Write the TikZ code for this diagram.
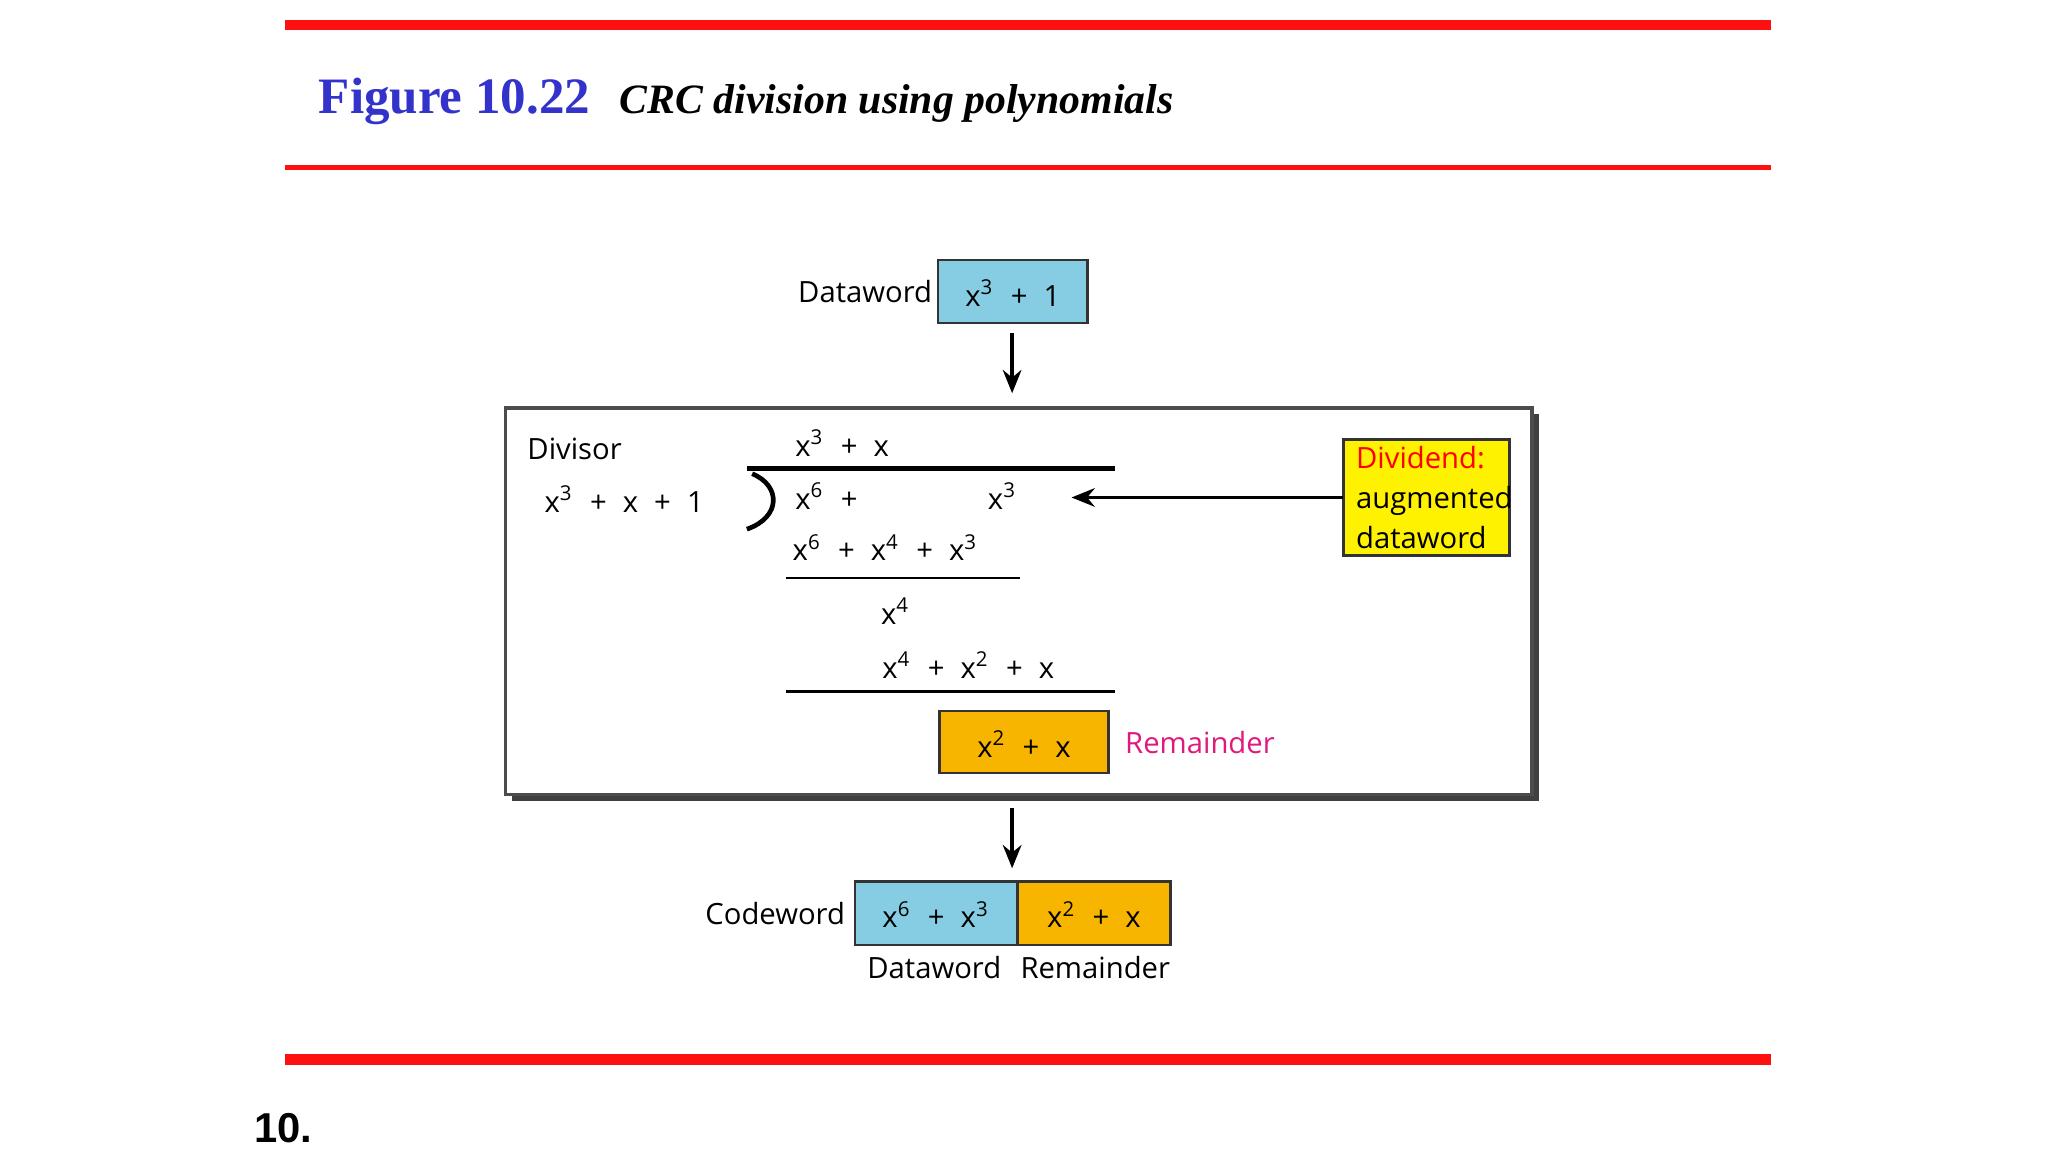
\documentclass[tikz,border=0pt]{standalone}
\usepackage{fontspec}
\setmainfont{Open Sans}
\newfontfamily\serif{Liberation Serif}
\newfontfamily\lsans{Liberation Sans}
\usetikzlibrary{arrows.meta}
\definecolor{redline}{HTML}{FF1010}
\definecolor{titleblue}{HTML}{3333CC}
\definecolor{lblue}{HTML}{86CDE3}
\definecolor{orng}{HTML}{F7B500}
\definecolor{ylw}{HTML}{FFF200}
\definecolor{mag}{HTML}{E0197D}
\newcommand{\sq}[1]{\textsuperscript{#1}}
\newcommand{\gp}{\hspace{0.55em}}
\begin{document}
\begin{tikzpicture}[x=0.01cm,y=-0.01cm,
  txt/.style={font=\fontsize{6.3}{7.6}\selectfont, inner sep=0pt},
  bx/.style={draw=black!80, line width=0.5pt},
  arr/.style={-{Stealth[length=5pt,width=4pt]}, line width=1pt},
  rule/.style={line width=0.6pt}]
\useasboundingbox (0,0) rectangle (1552,873);
% lines
\draw[redline, line width=2.3pt] (216,19) -- (1342,19);
\draw[redline, line width=0.9pt] (216,127) -- (1342,127);
\draw[redline, line width=2.3pt] (216,803) -- (1342,803);
\node[anchor=base west, inner sep=0pt, text=titleblue, font=\serif\bfseries\fontsize{11}{13}\selectfont] (fig) at (241,86) {Figure 10.22};
\node[anchor=base west, inner sep=0pt, font=\serif\bfseries\itshape\fontsize{9}{11}\selectfont] (cap) at (469,86) {CRC division using polynomials};
\node[anchor=base west, inner sep=0pt, font=\lsans\bfseries\fontsize{9}{11}\selectfont] (pg) at (192,866) {10.};
% dataword
\path[bx, fill=lblue] (711,197) rectangle (824,245);
\node[txt] (dwt) at (767.5,222) {x\sq{3}\gp+\gp1};
\node[txt, anchor=east] (dwl) at (707,221) {Dataword};
\coordinate (a1s) at (767,252); \coordinate (a1e) at (767,298);
\draw[arr] (a1s) -- (a1e);
% main box
\fill[black!75] (388,314) rectangle (1166,607);
\draw[black!70, fill=white, line width=0.8pt] (383,309) rectangle (1161,602);
\node[txt, anchor=west] (div) at (399,340) {Divisor};
\node[txt, anchor=west] (dvs) at (412,378) {x\sq{3}\gp+\gp x\gp+\gp 1};
\draw[line width=1pt] (570,359) .. controls (592,368) and (592,392) .. (566,401);
\draw[line width=1pt] (566,355) -- (845,355);
\node[txt, anchor=west] (q) at (602,336) {x\sq{3}\gp+\gp x};
\node[txt, anchor=west] (r1) at (602,376) {x\sq{6}\gp+};
\node[txt, anchor=west] (r1b) at (748,376) {x\sq{3}};
\node[txt, anchor=west] (r2) at (600,415) {x\sq{6}\gp+\gp x\sq{4}\gp+\gp x\sq{3}};
\draw[rule] (596,438) -- (773,438);
\node[txt, anchor=west] (r3) at (667,463) {x\sq{4}};
\node[txt, anchor=west] (r4) at (668,504) {x\sq{4}\gp+\gp x\sq{2}\gp+\gp x};
\draw[rule] (596,524) -- (845,524);
\path[bx, fill=orng] (712,539) rectangle (840,586);
\node[txt] (rem) at (776,564) {x\sq{2}\gp+\gp x};
\node[txt, anchor=west, text=mag] (reml) at (852,563) {Remainder};
% dividend
\path[bx, fill=ylw] (1018,333) rectangle (1144,421);
\node[txt, anchor=west, align=left] (dd) at (1027,377) {\textcolor{red}{Dividend:}\\[1pt]augmented\\[1pt]dataword};
\coordinate (ddl) at (1018,377); \coordinate (ddt) at (812,377);
\draw[arr, line width=0.7pt] (ddl) -- (ddt);
\coordinate (a2s) at (767,612); \coordinate (a2e) at (767,658);
\draw[arr] (a2s) -- (a2e);
% codeword
\path[bx, fill=lblue] (648,668) rectangle (771,716);
\path[bx, fill=orng] (771,668) rectangle (887,716);
\node[txt] (c1) at (709.5,693) {x\sq{6}\gp+\gp x\sq{3}};
\node[txt] (c2) at (829,693) {x\sq{2}\gp+\gp x};
\node[txt, anchor=east] (cl) at (641,692) {Codeword};
\node[txt] (cd) at (708,733) {Dataword};
\node[txt] (cr) at (830,733) {Remainder};
\end{tikzpicture}
\end{document}
